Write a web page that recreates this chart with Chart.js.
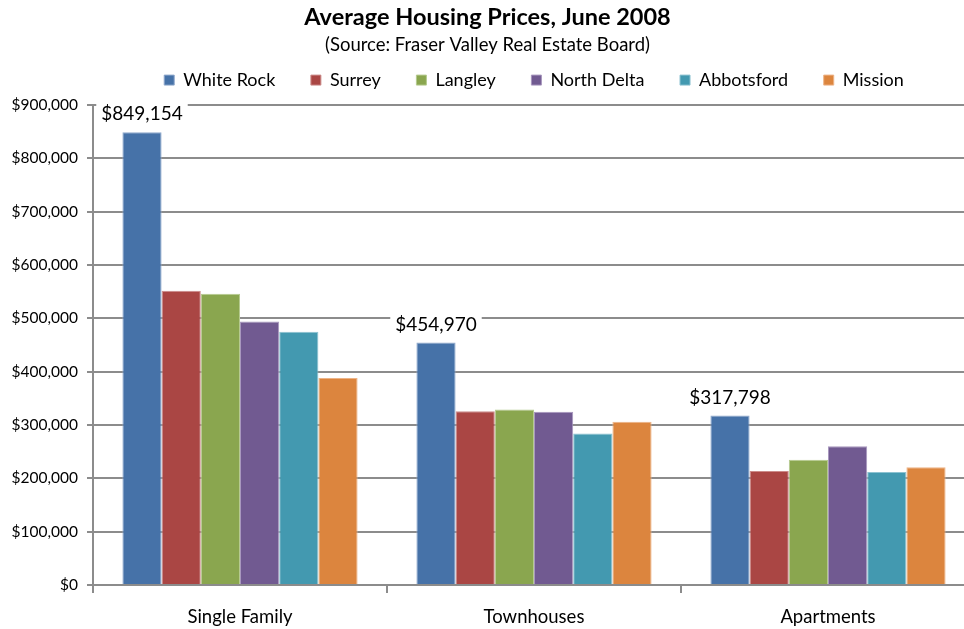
<!DOCTYPE html>
<html>
<head>
<meta charset="utf-8">
<script src="https://cdn.jsdelivr.net/npm/chart.js@4/dist/chart.umd.min.js"></script>
<style>
html, body { margin: 0; padding: 0; background: #fff; overflow: hidden; }
#wrap { width: 978px; height: 629px; position: relative; }
</style>
</head>
<body>
<div id="wrap"><canvas id="c"></canvas></div>
<script>
const categories = ['Single Family', 'Townhouses', 'Apartments'];
const seriesNames = ['White Rock', 'Surrey', 'Langley', 'North Delta', 'Abbotsford', 'Mission'];
const whiteRock  = [849154, 454970, 317798];
const surrey     = [552000, 326000, 214000];
const langley    = [546000, 329000, 235000];
const northDelta = [494000, 325000, 260000];
const abbotsford = [475000, 284000, 212000];
const mission    = [388000, 306000, 221000];
const yTicks = [0, 100000, 200000, 300000, 400000, 500000, 600000, 700000, 800000, 900000];

const seriesValues = [whiteRock, surrey, langley, northDelta, abbotsford, mission];
const fills   = ['#4672A8', '#AA4644', '#8AA64F', '#715A91', '#4399B0', '#DC853E'];
const borders = ['#8FA8CC', '#CC8C8A', '#B5CA8F', '#A897BE', '#8CC2D1', '#EDB386'];

const fmt = v => '$' + Math.round(v).toLocaleString('en-US');

const labelPlugin = {
  id: 'wrLabels',
  afterDatasetsDraw(chart) {
    const meta = chart.getDatasetMeta(0);
    const ctx = chart.ctx;
    ctx.save();
    ctx.font = '19px Lato';
    ctx.textAlign = 'center';
    ctx.textBaseline = 'middle';
    meta.data.forEach((el, i) => {
      const txt = fmt(chart.data.datasets[0].data[i]);
      const w = ctx.measureText(txt).width;
      const y = el.y - 18;
      ctx.fillStyle = '#fff';
      ctx.fillRect(el.x - w / 2 - 5, y - 12, w + 10, 24);
      ctx.fillStyle = '#000';
      ctx.fillText(txt, el.x, y);
    });
    ctx.restore();
  }
};

const legendFitPlugin = {
  id: 'legendFit',
  beforeLayout(chart) {
    const lg = chart.legend;
    if (lg && !lg._patched) {
      const orig = lg.fit;
      lg.fit = function () { orig.call(this); this.height += 6; };
      lg._patched = true;
    }
  }
};

Chart.defaults.font.family = 'Lato';
Chart.defaults.color = '#000';

new Chart(document.getElementById('c'), {
  type: 'bar',
  data: {
    labels: categories,
    datasets: seriesNames.map((n, i) => ({
      label: n,
      data: seriesValues[i],
      backgroundColor: fills[i],
      borderColor: borders[i],
      borderWidth: 1,
      categoryPercentage: 0.8,
      barPercentage: 1.0
    }))
  },
  options: {
    responsive: true,
    maintainAspectRatio: false,
    animation: false,
    layout: { padding: { left: 0, right: 3, top: 0, bottom: 0 } },
    plugins: {
      title: {
        display: true,
        text: 'Average Housing Prices, June 2008',
        font: { size: 23.5, weight: 'bold', family: 'Lato', lineHeight: 1.2 },
        color: '#000',
        padding: { top: 3, bottom: 0 }
      },
      subtitle: {
        display: true,
        text: '(Source: Fraser Valley Real Estate Board)',
        font: { size: 18.5, family: 'Lato', lineHeight: 1.2 },
        color: '#000',
        padding: { top: 2.7, bottom: -20.6 }
      },
      legend: {
        display: true,
        position: 'top',
        fullSize: false,
        labels: {
          boxWidth: 10,
          boxHeight: 10,
          padding: 35.6,
          font: { size: 18, family: 'Lato' },
          color: '#000'
        }
      },
      tooltip: { enabled: false }
    },
    scales: {
      x: {
        grid: {
          display: true,
          drawOnChartArea: false,
          drawTicks: true,
          tickLength: 8,
          offset: true,
          color: '#8c8c8c',
          lineWidth: 2
        },
        border: { display: true, color: '#8c8c8c', width: 2 },
        ticks: { font: { size: 18.5, family: 'Lato' }, color: '#000', padding: 13 },
        afterFit(scale) { scale.height = 44; }
      },
      y: {
        min: 0,
        max: 900000,
        afterBuildTicks(scale) { scale.ticks = yTicks.map(v => ({ value: v })); },
        grid: {
          color: '#8c8c8c',
          lineWidth: 2,
          drawTicks: true,
          tickLength: 6
        },
        border: { display: true, color: '#8c8c8c', width: 2 },
        ticks: {
          font: { size: 15.5, family: 'Lato' },
          color: '#000',
          padding: 9,
          callback: v => fmt(v)
        },
        afterFit(scale) { scale.width = 93; }
      }
    }
  },
  plugins: [labelPlugin, legendFitPlugin]
});
</script>
</body>
</html>
